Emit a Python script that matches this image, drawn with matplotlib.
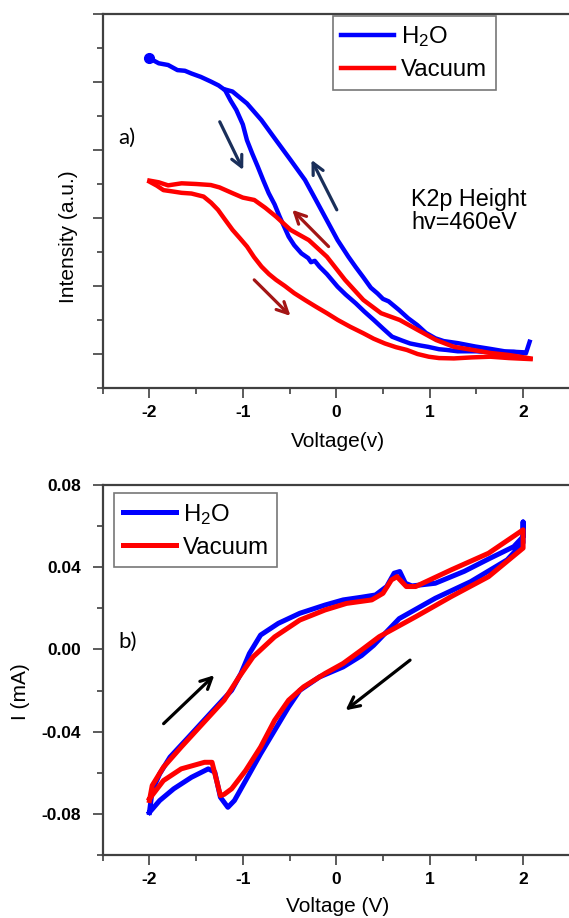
import matplotlib
matplotlib.use("Agg")
import matplotlib.pyplot as plt
from matplotlib.ticker import MultipleLocator, FixedLocator

plt.rcParams['font.family'] = ['Liberation Sans', 'DejaVu Sans']
plt.rcParams['mathtext.fontset'] = 'custom'
plt.rcParams['mathtext.rm'] = 'Liberation Sans'
plt.rcParams['mathtext.it'] = 'Liberation Sans'
plt.rcParams['axes.unicode_minus'] = False

# ---------------- Panel a: K2p height vs voltage ----------------
# H2O: forward sweep (-2 -> 2, lower/left branch)
h2o_a_fwd_x = [-2.0, -1.9, -1.8, -1.7, -1.62, -1.55, -1.45, -1.34, -1.26, -1.19, -1.13, -1.07,
               -1.0, -0.956, -0.9, -0.84, -0.78, -0.723, -0.66, -0.606, -0.55, -0.509, -0.45,
               -0.373, -0.3, -0.27, -0.23, -0.18, -0.1, 0.014, 0.1, 0.209, 0.3, 0.402, 0.5,
               0.597, 0.7, 0.79, 0.9, 0.985, 1.1, 1.179, 1.3, 1.5, 1.7, 1.9, 2.03, 2.07]
h2o_a_fwd_y = [9.70, 9.55, 9.50, 9.35, 9.33, 9.25, 9.15, 9.01, 8.90, 8.76, 8.45, 8.18,
               7.75, 7.29, 6.90, 6.51, 6.10, 5.73, 5.40, 5.04, 4.70, 4.45, 4.20,
               3.96, 3.82, 3.70, 3.74, 3.57, 3.35, 2.98, 2.75, 2.49, 2.25, 2.00, 1.75,
               1.51, 1.40, 1.31, 1.25, 1.21, 1.14, 1.12, 1.08, 1.08, 1.04, 1.06, 1.02, 1.36]
# H2O: reverse sweep (2 -> -1.2, upper/right branch)
h2o_a_rev_x = [2.0, 1.8, 1.65, 1.489, 1.3, 1.15, 1.062, 0.96, 0.868, 0.77, 0.674, 0.56, 0.5,
               0.442, 0.37, 0.286, 0.21, 0.13, 0.014, -0.102, -0.218, -0.335, -0.49,
               -0.645, -0.801, -0.956, -1.111, -1.19]
h2o_a_rev_y = [1.05, 1.08, 1.15, 1.22, 1.32, 1.38, 1.46, 1.62, 1.85, 2.05, 2.29, 2.55, 2.62,
               2.78, 2.95, 3.27, 3.55, 3.86, 4.35, 4.94, 5.53, 6.12, 6.71,
               7.29, 7.88, 8.37, 8.72, 8.78]

# Vacuum: forward sweep (-2 -> 2, lower branch)
vac_a_fwd_x = [-2.0, -1.92, -1.85, -1.75, -1.655, -1.55, -1.42, -1.34, -1.266, -1.19, -1.11,
               -1.03, -0.955, -0.88, -0.80, -0.72, -0.644, -0.55, -0.45, -0.33, -0.217,
               -0.1, 0.017, 0.15, 0.29, 0.4, 0.52, 0.64, 0.755, 0.87, 0.99, 1.1, 1.26,
               1.45, 1.65, 1.85, 2.08]
vac_a_fwd_y = [6.07, 5.95, 5.82, 5.78, 5.74, 5.72, 5.63, 5.45, 5.24, 4.95, 4.65,
               4.40, 4.16, 3.85, 3.57, 3.35, 3.18, 3.00, 2.79, 2.58, 2.39,
               2.20, 2.00, 1.80, 1.61, 1.45, 1.31, 1.20, 1.12, 1.00, 0.92, 0.88, 0.87,
               0.90, 0.92, 0.88, 0.85]
# Vacuum: reverse sweep (2 -> -2, upper branch)
vac_a_rev_x = [2.08, 1.85, 1.65, 1.46, 1.26, 1.07, 0.87, 0.68, 0.48, 0.29, 0.094, -0.1,
               -0.294, -0.489, -0.644, -0.76, -0.877, -1.0, -1.11, -1.25, -1.343, -1.5,
               -1.655, -1.8, -1.9, -2.0]
vac_a_rev_y = [0.87, 0.97, 1.03, 1.12, 1.21, 1.41, 1.71, 2.00, 2.20, 2.59, 3.18, 3.86,
               4.35, 4.65, 5.04, 5.30, 5.53, 5.60, 5.73, 5.90, 5.97, 6.00,
               6.02, 5.96, 6.05, 6.10]

# ---------------- Panel b: cyclic voltammogram ----------------
h2o_b_x = [-2.0, -1.97, -1.89, -1.78, -1.58, -1.35, -1.12, -1.02, -0.93, -0.81, -0.62,
           -0.39, -0.12, 0.074, 0.27, 0.42, 0.54, 0.62, 0.68, 0.74, 0.81, 1.06, 1.37,
           1.63, 1.90, 2.0, 2.0, 2.0, 1.83, 1.44, 1.06, 0.674, 0.40, 0.27, 0.074, -0.18,
           -0.39, -0.51, -0.66, -0.81, -0.97, -1.09, -1.16, -1.24, -1.30, -1.37, -1.55,
           -1.74, -1.89, -2.0]
h2o_b_y = [-0.0793, -0.0687, -0.0605, -0.0524, -0.0426, -0.0312, -0.0199, -0.0117, -0.0020,
           0.0070, 0.0127, 0.0176, 0.0216, 0.0241, 0.0254, 0.0265, 0.0306, 0.0371, 0.0379,
           0.0322, 0.0309, 0.0322, 0.0380, 0.0440, 0.0500, 0.0549, 0.0620, 0.0520, 0.0436,
           0.0330, 0.0249, 0.0150, 0.0020, -0.0030, -0.0085, -0.0134, -0.0199, -0.0280,
           -0.0394, -0.0508, -0.0638, -0.0735, -0.0768, -0.0719, -0.0597, -0.0581, -0.0622,
           -0.0678, -0.0735, -0.0793]

vac_b_x = [-2.0, -1.97, -1.85, -1.66, -1.43, -1.20, -1.04, -0.89, -0.66, -0.39, -0.12,
           0.11, 0.38, 0.50, 0.59, 0.65, 0.75, 0.85, 1.23, 1.63, 2.0, 2.0, 1.63, 1.23,
           0.85, 0.46, 0.27, 0.074, -0.12, -0.35, -0.51, -0.66, -0.81, -0.97, -1.12,
           -1.20, -1.24, -1.33, -1.41, -1.66, -1.85, -2.0]
vac_b_y = [-0.0735, -0.0662, -0.0573, -0.0475, -0.0361, -0.0247, -0.0134, -0.0036, 0.0061,
           0.0143, 0.0192, 0.0224, 0.0241, 0.0273, 0.0338, 0.0354, 0.0306, 0.0306, 0.0387,
           0.0468, 0.0582, 0.0493, 0.0354, 0.0257, 0.0159, 0.0062, -0.0003, -0.0068,
           -0.0117, -0.0182, -0.0247, -0.0345, -0.0475, -0.0589, -0.0678, -0.0705, -0.0711,
           -0.0549, -0.0549, -0.0581, -0.0638, -0.0727]

x_ticks = [-2, -1, 0, 1, 2]
b_y_ticks = [-0.08, -0.04, 0.00, 0.04, 0.08]
b_y_ticklabels = ['-0.08', '-0.04', '0.00', '0.04', '0.08']

BLUE = '#0000ff'
RED = '#ff0000'
NAVY = '#1a2f5a'
DARKRED = '#a31515'
SPINE = '#404040'

W, H = 569, 918
fig = plt.figure(figsize=(W / 100, H / 100), dpi=100)

def fx(px):
    return px / W

def fy(py):
    return 1 - py / H

left_px, right_px = 102.7, 569.8
axA = fig.add_axes([fx(left_px), fy(388), (right_px - left_px) / W, (388 - 14) / H])
axB = fig.add_axes([fx(left_px), fy(855), (right_px - left_px) / W, (855 - 485) / H])

def style(ax):
    ax.spines['right'].set_visible(False)
    for s in ['left', 'bottom', 'top']:
        ax.spines[s].set_linewidth(1.6)
        ax.spines[s].set_color(SPINE)
    ax.set_xlim(-2.5, 2.5)
    ax.xaxis.set_major_locator(FixedLocator(x_ticks))
    ax.xaxis.set_minor_locator(MultipleLocator(0.5))
    ax.tick_params(axis='both', which='major', direction='out', length=7.5, width=1.2,
                   color=SPINE, labelsize=12.5, pad=5)
    ax.tick_params(axis='both', which='minor', direction='out', length=4, width=1.2,
                   color=SPINE)
    ax.tick_params(axis='x', which='both', top=False)
    ax.tick_params(axis='y', which='both', right=False)
    for lab in ax.get_xticklabels() + ax.get_yticklabels():
        lab.set_fontweight('bold')

leg_kw = dict(loc='upper left', fontsize=17.3, frameon=True, fancybox=False,
              edgecolor='#555555', handlelength=2.2, handletextpad=0.3,
              labelspacing=0.42, borderpad=0.35, borderaxespad=0)

# ---- Panel a ----
axA.plot(h2o_a_fwd_x, h2o_a_fwd_y, color=BLUE, lw=3.2, solid_joinstyle='round',
         label='H$_2$O')
axA.plot(h2o_a_rev_x, h2o_a_rev_y, color=BLUE, lw=3.2, solid_joinstyle='round')
axA.plot([h2o_a_fwd_x[0]], [h2o_a_fwd_y[0]], 'o', color=BLUE, ms=7)
axA.plot(vac_a_fwd_x, vac_a_fwd_y, color=RED, lw=3.2, solid_joinstyle='round', label='Vacuum')
axA.plot(vac_a_rev_x, vac_a_rev_y, color=RED, lw=3.2, solid_joinstyle='round')
axA.set_ylim(0, 11)
axA.yaxis.set_major_locator(FixedLocator([1, 3, 5, 7, 9, 11]))
axA.yaxis.set_minor_locator(FixedLocator([0, 2, 4, 6, 8, 10]))
axA.set_yticklabels([])
style(axA)

arrow_kw = dict(arrowstyle='->,head_length=0.8,head_width=0.4', lw=2.3,
                shrinkA=0, shrinkB=0)
axA.annotate('', xy=(-0.996, 6.41), xytext=(-1.247, 7.83),
             arrowprops=dict(color=NAVY, **arrow_kw))
axA.annotate('', xy=(-0.265, 6.71), xytext=(0.006, 5.24),
             arrowprops=dict(color=NAVY, **arrow_kw))
axA.annotate('', xy=(-0.471, 5.24), xytext=(-0.082, 4.16),
             arrowprops=dict(color=DARKRED, **arrow_kw))
axA.annotate('', xy=(-0.49, 2.12), xytext=(-0.878, 3.18),
             arrowprops=dict(color=DARKRED, **arrow_kw))

legA = axA.legend(bbox_to_anchor=((332.7 - left_px) / (right_px - left_px),
                                  (388 - 16) / (388 - 14)), **leg_kw)
legA.get_frame().set_linewidth(1.2)

fig.text(fx(118), fy(138), 'a)', fontsize=16, family=['Lato', 'DejaVu Sans'],
         ha='left', va='center')
fig.text(fx(411), fy(211), 'K2p Height\nhv=460eV', fontsize=16.8, ha='left',
         va='center', linespacing=1.05)
fig.text(fx(338), fy(441), 'Voltage(v)', fontsize=15, ha='center', va='center')
fig.text(fx(69), fy(237), 'Intensity (a.u.)', fontsize=15, ha='center', va='center',
         rotation=90)

# ---- Panel b ----
axB.plot(h2o_b_x, h2o_b_y, color=BLUE, lw=3.6, solid_joinstyle='round', label='H$_2$O')
axB.plot(vac_b_x, vac_b_y, color=RED, lw=3.6, solid_joinstyle='round', label='Vacuum')
axB.set_ylim(-0.1, 0.08)
axB.yaxis.set_major_locator(FixedLocator(b_y_ticks))
axB.yaxis.set_minor_locator(MultipleLocator(0.02))
axB.set_yticklabels(b_y_ticklabels)
style(axB)
axB.tick_params(axis='y', which='major', pad=8)

black_kw = dict(arrowstyle='->,head_length=0.8,head_width=0.4', lw=2.3, color='black',
                shrinkA=0, shrinkB=0)
axB.annotate('', xy=(-1.305, -0.01254), xytext=(-1.848, -0.0361), arrowprops=black_kw)
axB.annotate('', xy=(0.0995, -0.0296), xytext=(0.790, -0.0052), arrowprops=black_kw)

legB = axB.legend(bbox_to_anchor=((114.3 - left_px) / (right_px - left_px),
                                  (855 - 493.3) / (855 - 485)), **leg_kw)
legB.get_frame().set_linewidth(1.2)

fig.text(fx(118), fy(642), 'b)', fontsize=16, family=['Lato', 'DejaVu Sans'],
         ha='left', va='center')
fig.text(fx(338), fy(907), 'Voltage (V)', fontsize=15, ha='center', va='center')
fig.text(fx(21), fy(692), 'I (mA)', fontsize=15, ha='center', va='center', rotation=90)

fig.savefig('out.png', dpi=100)
